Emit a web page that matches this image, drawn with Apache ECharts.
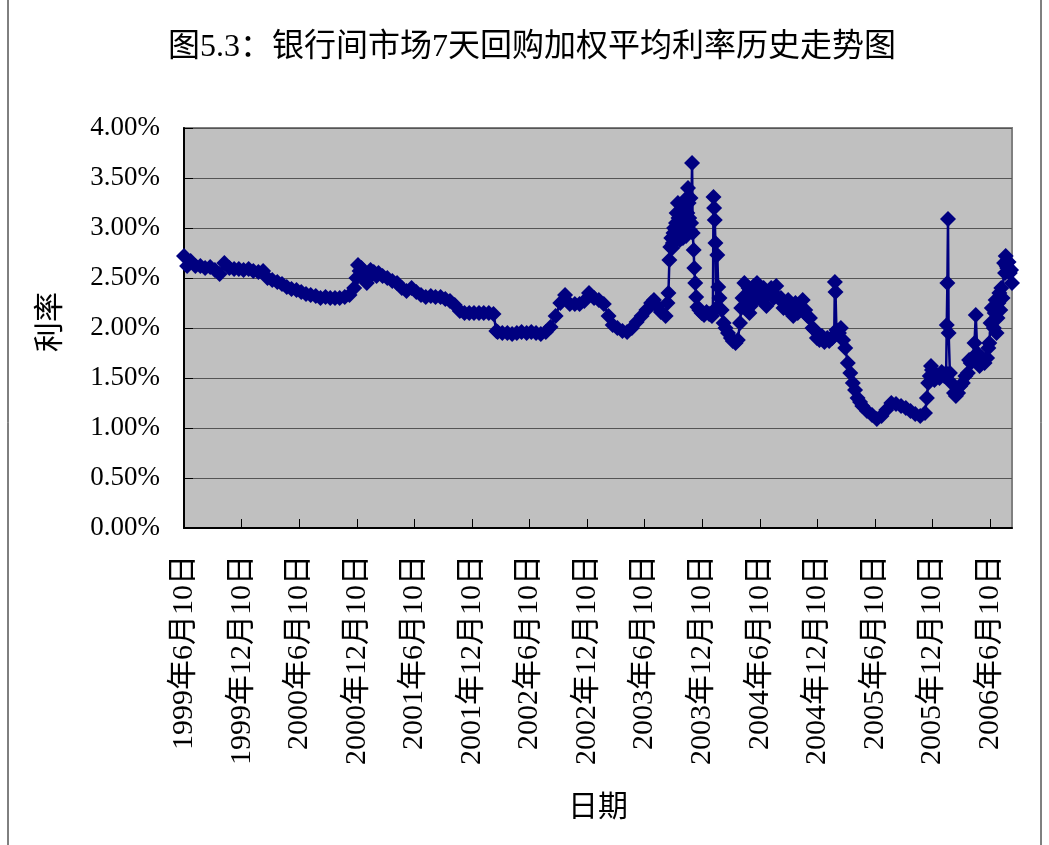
<!DOCTYPE html>
<html>
<head>
<meta charset="utf-8">
<script src="https://cdn.jsdelivr.net/npm/echarts@6/dist/echarts.min.js"></script>
<style>
  html, body { margin: 0; padding: 0; background: #fff; }
  #chart { width: 1049px; height: 845px; }
</style>
</head>
<body>
<div id="chart"></div>
<script>
// 7天回购加权平均利率 (%)
const dates = [
  // 1999
  '1999-06-10','1999-06-20','1999-07-01','1999-07-16','1999-08-01','1999-08-16','1999-09-01','1999-09-16',
  '1999-10-01','1999-10-16','1999-11-01','1999-11-16','1999-12-01','1999-12-16',
  // 2000
  '2000-01-01','2000-01-16','2000-02-01','2000-02-16','2000-03-01','2000-03-16','2000-04-01','2000-04-16',
  '2000-05-01','2000-05-16','2000-06-01','2000-06-16','2000-07-01','2000-07-16','2000-08-01','2000-08-16',
  '2000-09-01','2000-09-16','2000-10-01','2000-10-16','2000-11-01','2000-11-16','2000-12-01','2000-12-08',
  '2000-12-13','2000-12-18','2000-12-24',
  // 2001
  '2001-01-01','2001-01-06','2001-01-10','2001-01-16','2001-01-22','2001-02-01','2001-02-10','2001-02-16',
  '2001-03-01','2001-03-16','2001-04-01','2001-04-16','2001-05-01','2001-05-16','2001-06-01','2001-06-16',
  '2001-07-01','2001-07-16','2001-08-01','2001-08-16','2001-09-01','2001-09-16','2001-10-01','2001-10-16',
  '2001-11-01','2001-11-16','2001-12-01','2001-12-16',
  // 2002
  '2002-01-01','2002-01-16','2002-02-01','2002-02-16','2002-02-25','2002-03-01','2002-03-16','2002-04-01',
  '2002-04-16','2002-05-01','2002-05-16','2002-06-01','2002-06-16','2002-07-01','2002-07-16','2002-08-01',
  '2002-08-16','2002-09-01','2002-09-16','2002-10-01','2002-10-16','2002-11-01','2002-11-16','2002-12-01',
  '2002-12-16',
  // 2003
  '2003-01-01','2003-01-16','2003-02-01','2003-02-16','2003-03-01','2003-03-16','2003-04-01','2003-04-16',
  '2003-05-01','2003-05-16','2003-06-01','2003-06-16','2003-07-01','2003-07-10','2003-07-20','2003-08-01',
  '2003-08-16','2003-08-22','2003-08-25','2003-08-28','2003-08-31','2003-09-03','2003-09-06','2003-09-08',
  '2003-09-10','2003-09-12','2003-09-14','2003-09-16','2003-09-18','2003-09-20','2003-09-22','2003-09-24',
  '2003-09-26','2003-09-28','2003-09-30','2003-10-02','2003-10-04','2003-10-06','2003-10-08','2003-10-10',
  '2003-10-12','2003-10-14','2003-10-16','2003-10-18','2003-10-20','2003-10-22','2003-10-24','2003-10-26',
  '2003-10-28','2003-10-30','2003-11-01','2003-11-03','2003-11-05','2003-11-08','2003-11-10','2003-11-13',
  '2003-11-15','2003-11-18','2003-11-21','2003-11-25','2003-12-01','2003-12-08','2003-12-16','2003-12-24',
  // 2004
  '2004-01-01','2004-01-10','2004-01-13','2004-01-15','2004-01-17','2004-01-19','2004-01-21','2004-01-24',
  '2004-01-27','2004-01-30','2004-02-03','2004-02-10','2004-02-16','2004-02-22','2004-03-01','2004-03-10',
  '2004-03-16','2004-03-25','2004-04-01','2004-04-08','2004-04-12','2004-04-16','2004-04-22','2004-04-26',
  '2004-05-01','2004-05-05','2004-05-08','2004-05-12','2004-05-16','2004-05-22','2004-05-27','2004-06-01',
  '2004-06-05','2004-06-10','2004-06-16','2004-06-22','2004-07-01','2004-07-08','2004-07-16','2004-07-24',
  '2004-08-01','2004-08-08','2004-08-16','2004-08-24','2004-09-01','2004-09-08','2004-09-16','2004-09-24',
  '2004-10-01','2004-10-08','2004-10-16','2004-10-24','2004-11-01','2004-11-08','2004-11-16','2004-11-24',
  '2004-12-01','2004-12-08','2004-12-16','2004-12-24',
  // 2005
  '2005-01-01','2005-01-10','2005-01-16','2005-01-26','2005-02-01','2005-02-03','2005-02-05','2005-02-08',
  '2005-02-16','2005-02-22','2005-03-01','2005-03-08','2005-03-16','2005-03-24','2005-04-01','2005-04-08',
  '2005-04-16','2005-04-24','2005-05-01','2005-05-16','2005-06-01','2005-06-16','2005-07-01','2005-07-16',
  '2005-08-01','2005-08-16','2005-09-01','2005-09-16','2005-10-01','2005-10-16','2005-11-01','2005-11-16',
  '2005-11-22','2005-11-26','2005-12-01','2005-12-05','2005-12-08','2005-12-16','2005-12-24',
  // 2006
  '2006-01-01','2006-01-08','2006-01-16','2006-01-22','2006-01-24','2006-01-26','2006-01-28','2006-01-30',
  '2006-02-03','2006-02-08','2006-02-16','2006-02-22','2006-03-01','2006-03-08','2006-03-16','2006-03-24',
  '2006-04-01','2006-04-05','2006-04-10','2006-04-16','2006-04-22','2006-04-26','2006-05-01','2006-05-08',
  '2006-05-16','2006-05-24','2006-06-01','2006-06-05','2006-06-08','2006-06-12','2006-06-16','2006-06-22',
  '2006-06-25','2006-06-28','2006-07-01','2006-07-04','2006-07-07','2006-07-10','2006-07-13','2006-07-16',
  '2006-07-20','2006-07-25','2006-07-28','2006-07-30','2006-08-02','2006-08-04','2006-08-08','2006-08-12',
  '2006-08-16','2006-08-19'
];

const rates = [
  // 1999
  2.72,2.62,2.67,2.62,2.62,2.60,2.61,2.58,
  2.54,2.65,2.60,2.59,2.59,2.58,
  // 2000
  2.59,2.57,2.56,2.57,2.50,2.48,2.46,2.44,
  2.41,2.39,2.38,2.36,2.34,2.33,2.32,2.30,
  2.31,2.30,2.30,2.30,2.31,2.33,2.40,2.50,
  2.63,2.57,2.60,
  // 2001
  2.55,2.48,2.45,2.50,2.58,2.56,2.52,2.55,
  2.52,2.50,2.47,2.45,2.40,2.37,2.40,2.36,
  2.33,2.31,2.32,2.31,2.31,2.29,2.27,2.23,
  2.17,2.15,2.15,2.15,
  // 2002
  2.15,2.15,2.15,2.14,1.97,1.96,1.95,1.95,
  1.94,1.95,1.96,1.95,1.96,1.95,1.94,1.96,
  2.01,2.12,2.25,2.33,2.24,2.24,2.24,2.27,
  2.35,
  // 2003
  2.30,2.28,2.24,2.12,2.03,2.00,1.97,1.96,
  2.00,2.06,2.12,2.18,2.25,2.28,2.22,2.16,
  2.12,2.25,2.35,2.68,2.81,2.90,2.80,2.85,
  2.95,3.00,2.88,2.92,3.05,3.15,2.98,3.25,
  3.10,3.05,2.88,2.95,3.18,3.10,2.95,2.90,
  3.05,3.20,3.10,3.00,2.92,3.30,3.15,3.40,
  3.25,3.10,2.98,3.30,3.05,3.65,2.95,2.78,
  2.60,2.45,2.31,2.21,2.18,2.15,2.13,2.16,
  // 2004
  2.14,2.12,2.16,3.31,3.20,3.08,2.85,2.20,
  2.73,2.41,2.30,2.18,2.05,2.00,1.95,1.90,
  1.87,1.85,1.88,2.05,2.20,2.30,2.45,2.20,
  2.25,2.40,2.15,2.22,2.35,2.42,2.30,2.45,
  2.30,2.38,2.28,2.40,2.22,2.35,2.40,2.30,
  2.42,2.30,2.30,2.20,2.20,2.28,2.17,2.12,
  2.25,2.15,2.20,2.28,2.18,2.12,2.10,2.00,
  1.98,1.90,1.88,1.92,
  // 2005
  1.86,1.90,1.87,1.90,1.93,2.46,2.36,1.98,
  1.95,2.00,1.88,1.80,1.65,1.55,1.45,1.38,
  1.30,1.26,1.22,1.17,1.13,1.09,1.12,1.18,
  1.25,1.24,1.22,1.20,1.17,1.14,1.12,1.15,
  1.30,1.45,1.52,1.62,1.58,1.48,1.52,
  // 2006
  1.50,1.56,1.52,1.55,2.03,2.45,3.09,1.95,
  1.55,1.45,1.35,1.32,1.35,1.42,1.45,1.52,
  1.55,1.68,1.65,1.70,1.85,2.13,1.75,1.62,
  1.70,1.65,1.70,1.80,1.85,2.05,2.20,2.00,
  2.15,2.28,1.95,2.10,2.25,2.35,2.18,2.40,
  2.30,2.65,2.55,2.72,2.62,2.60,2.66,2.55,
  2.58,2.45
];

const tickDates = [
  '1999-06-10','1999-12-10','2000-06-10','2000-12-10','2001-06-10','2001-12-10','2002-06-10','2002-12-10',
  '2003-06-10','2003-12-10','2004-06-10','2004-12-10','2005-06-10','2005-12-10','2006-06-10'
];
const axisStart = '1999-06-10';
const axisEnd = '2006-08-19';

function toTime(s) {
  const p = s.split('-').map(Number);
  return new Date(p[0], p[1] - 1, p[2]).getTime();
}
const tickTimes = tickDates.map(toTime);

const serifFont = "'Liberation Serif', 'Noto Sans CJK SC', serif";

var myChart = echarts.init(document.getElementById('chart'));

option = {
  animation: false,
  backgroundColor: '#ffffff',
  title: {
    text: '图5.3：银行间市场7天回购加权平均利率历史走势图',
    left: 163,
    top: 27,
    textStyle: {
      fontFamily: serifFont,
      fontSize: 32,
      fontWeight: 'normal',
      color: '#000'
    }
  },
  graphic: [
    {
      type: 'rect',
      shape: { x: 8, y: -5, width: 1033, height: 860 },
      style: { fill: 'none', stroke: '#000', lineWidth: 1 },
      silent: true
    }
  ],
  grid: {
    left: 184,
    right: 37,
    top: 128,
    bottom: 317,
    show: true,
    backgroundColor: '#c0c0c0',
    borderColor: '#808080',
    borderWidth: 2
  },
  xAxis: {
    type: 'value',
    min: toTime(axisStart),
    max: toTime(axisEnd),
    name: '日期',
    nameLocation: 'middle',
    nameGap: 265,
    nameTextStyle: { fontFamily: serifFont, fontSize: 30, color: '#000' },
    axisLine: { lineStyle: { color: '#000', width: 2 } },
    axisTick: { inside: true, length: 9, customValues: tickTimes, lineStyle: { color: '#000' } },
    splitLine: { show: false },
    axisLabel: {
      customValues: tickTimes,
      rotate: 90,
      margin: 27,
      fontFamily: serifFont,
      fontSize: 30,
      color: '#000',
      formatter: function (val) {
        const d = new Date(val);
        return d.getFullYear() + '年' + (d.getMonth() + 1) + '月' + d.getDate() + '日';
      }
    }
  },
  yAxis: {
    type: 'value',
    min: 0,
    max: 4,
    interval: 0.5,
    name: '利率',
    nameLocation: 'middle',
    nameRotate: 90,
    nameGap: 118,
    nameTextStyle: { fontFamily: serifFont, fontSize: 30, color: '#000', padding: [0, 0, 0, 12] },
    axisLine: { show: true, lineStyle: { color: '#000', width: 2 } },
    axisTick: { show: true, inside: true, length: 9, lineStyle: { color: '#000' } },
    splitLine: { show: true, lineStyle: { color: '#555', width: 1 } },
    axisLabel: {
      margin: 24,
      fontFamily: serifFont,
      fontSize: 27,
      color: '#000',
      formatter: function (v) { return v.toFixed(2) + '%'; }
    }
  },
  series: [
    {
      name: '7天回购加权平均利率',
      type: 'line',
      data: dates.map(function (d, i) { return [toTime(d), rates[i]]; }),
      symbol: 'diamond',
      symbolSize: 16,
      showAllSymbol: true,
      clip: false,
      itemStyle: { color: '#000080' },
      lineStyle: { color: '#000080', width: 2.5 }
    }
  ]
};

myChart.setOption(option);
</script>
</body>
</html>
